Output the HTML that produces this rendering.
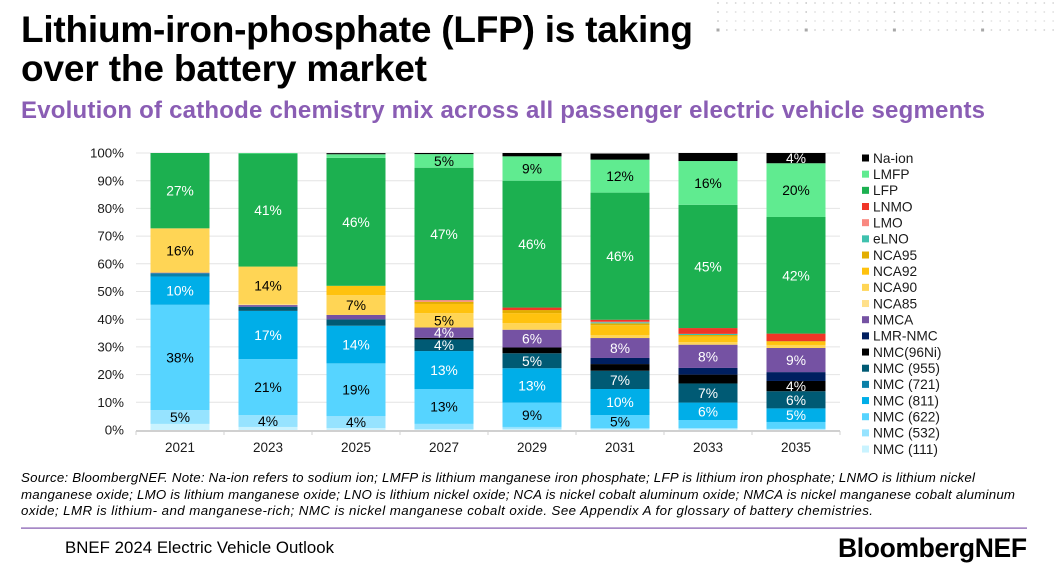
<!DOCTYPE html>
<html lang="en">
<head>
<meta charset="utf-8">
<title>Lithium-iron-phosphate (LFP) is taking over the battery market</title>
<style>
  html, body { margin: 0; padding: 0; background: #fff; }
  body { width: 1062px; height: 577px; overflow: hidden; }
  svg { display: block; font-family: "Liberation Sans", Arial, sans-serif; }
</style>
</head>
<body>
<svg id="root" xmlns="http://www.w3.org/2000/svg" width="1062" height="577" viewBox="0 0 1062 577">
  <g id="dots"></g>

  <text x="21" y="42" font-size="37" font-weight="700" fill="#000" textLength="672" lengthAdjust="spacing">Lithium-iron-phosphate (LFP) is taking</text>
  <text x="21" y="81" font-size="37" font-weight="700" fill="#000" textLength="406" lengthAdjust="spacing">over the battery market</text>
  <text x="21" y="118" font-size="24" font-weight="700" fill="#8A5DB4" textLength="964" lengthAdjust="spacing">Evolution of cathode chemistry mix across all passenger electric vehicle segments</text>

  <g id="grid"></g>
  <g id="yaxis"></g>
  <g id="bars"></g>
  <g id="xaxis"></g>
  <g id="labels"></g>
  <g id="legend"></g>

  <g font-size="13.3" font-style="italic" fill="#000">
    <text x="21" y="482" textLength="954" lengthAdjust="spacing">Source: BloombergNEF. Note: Na-ion refers to sodium ion; LMFP is lithium manganese iron phosphate; LFP is lithium iron phosphate; LNMO is lithium nickel</text>
    <text x="21" y="499" textLength="994" lengthAdjust="spacing">manganese oxide; LMO is lithium manganese oxide; LNO is lithium nickel oxide; NCA is nickel cobalt aluminum oxide; NMCA is nickel manganese cobalt aluminum</text>
    <text x="21" y="515" textLength="852" lengthAdjust="spacing">oxide; LMR is lithium- and manganese-rich; NMC is nickel manganese cobalt oxide. See Appendix A for glossary of battery chemistries.</text>
  </g>

  <rect x="21" y="527.5" width="1006" height="1.2" fill="#7F56AE"></rect>
  <text x="65" y="553" font-size="16.8" fill="#000" textLength="269" lengthAdjust="spacing">BNEF 2024 Electric Vehicle Outlook</text>
  <text x="838" y="557" font-size="26.5" font-weight="700" fill="#000" textLength="189" lengthAdjust="spacing">BloombergNEF</text>
</svg>

<script>
const years = ['2021', '2023', '2025', '2027', '2029', '2031', '2033', '2035'];
const yTicks = [0, 10, 20, 30, 40, 50, 60, 70, 80, 90, 100];

const nmc111 = [2.2, 1.1, 0.7, 0.3, 0.4, 0.3, 0.4, 0.2];
const nmc532 = [5.0, 4.3, 4.35, 1.9, 0.7, 0.4, 0.3, 0.2];
const nmc622 = [38.0, 20.2, 19.0, 12.6, 8.8, 4.7, 2.9, 2.5];
const nmc811 = [10.2, 17.4, 13.6, 13.7, 12.4, 9.4, 6.3, 4.9];
const nmc721 = [1.2, 0, 0, 0, 0, 0, 0, 0];
const nmc955 = [0, 1.5, 2.3, 4.2, 5.4, 6.6, 6.9, 6.2];
const nmc96Ni = [0, 0, 0, 0.6, 2.1, 2.4, 3.2, 3.7];
const lmrNmc = [0, 0, 0, 0, 0, 2.2, 2.4, 3.2];
const nmca = [0.2, 0.6, 1.6, 3.7, 6.4, 7.2, 8.4, 8.7];
const nca85 = [0, 0.4, 0, 0, 0, 0, 0, 0];
const nca90 = [16.0, 13.5, 7.1, 5.2, 2.4, 1.1, 0.9, 1.1];
const nca92 = [0, 0, 3.4, 3.3, 3.6, 3.5, 2.0, 1.1];
const nca95 = [0, 0, 0, 0.8, 1.1, 0.7, 0.6, 0.3];
const elno = [0, 0, 0, 0, 0, 0.4, 0.4, 0];
const lmo = [0, 0, 0, 0.6, 0, 0.2, 0, 0];
const lnmo = [0, 0, 0, 0, 0.9, 0.7, 2.1, 2.7];
const lfp = [27.2, 40.8, 46.2, 47.8, 45.8, 45.9, 44.5, 42.1];
const lmfp = [0, 0.2, 1.3, 4.9, 8.8, 11.9, 15.8, 19.4];
const naIon = [0, 0, 0.4, 0.4, 1.2, 2.2, 2.9, 3.7];

const nmc532Labels = ['5%', '4%', '4%', '', '', '', '', ''];
const nmc622Labels = ['38%', '21%', '19%', '13%', '9%', '5%', '', ''];
const nmc811Labels = ['10%', '17%', '14%', '13%', '13%', '10%', '6%', '5%'];
const nmc955Labels = ['', '', '', '4%', '5%', '7%', '7%', '6%'];
const nmc96NiLabels = ['', '', '', '', '', '', '', '4%'];
const nmcaLabels = ['', '', '', '4%', '6%', '8%', '8%', '9%'];
const nca90Labels = ['16%', '14%', '7%', '5%', '', '', '', ''];
const lfpLabels = ['27%', '41%', '46%', '47%', '46%', '46%', '45%', '42%'];
const lmfpLabels = ['', '', '', '5%', '9%', '12%', '16%', '20%'];
const naIonLabels = ['', '', '', '', '', '', '', '4%'];
const noLabels = ['', '', '', '', '', '', '', ''];

const seriesNames = ['NMC (111)', 'NMC (532)', 'NMC (622)', 'NMC (811)', 'NMC (721)', 'NMC (955)', 'NMC(96Ni)', 'LMR-NMC', 'NMCA', 'NCA85', 'NCA90', 'NCA92', 'NCA95', 'eLNO', 'LMO', 'LNMO', 'LFP', 'LMFP', 'Na-ion'];
const seriesValues = [nmc111, nmc532, nmc622, nmc811, nmc721, nmc955, nmc96Ni, lmrNmc, nmca, nca85, nca90, nca92, nca95, elno, lmo, lnmo, lfp, lmfp, naIon];
const seriesLabels = [noLabels, nmc532Labels, nmc622Labels, nmc811Labels, noLabels, nmc955Labels, nmc96NiLabels, noLabels, nmcaLabels, noLabels, nca90Labels, noLabels, noLabels, noLabels, noLabels, noLabels, lfpLabels, lmfpLabels, naIonLabels];
const seriesColors = ['#C9F3FF', '#96E3FF', '#56D4FF', '#00AEE8', '#0B80A8', '#005A74', '#000000', '#001F60', '#7552A3', '#FFE08A', '#FFD555', '#FFC20E', '#E3AE00', '#3FC1AE', '#F98880', '#F03527', '#1CB050', '#60EB90', '#000000'];
const labelColors = ['#000', '#000', '#000', '#fff', '#fff', '#fff', '#fff', '#fff', '#fff', '#000', '#000', '#000', '#000', '#000', '#000', '#000', '#fff', '#000', '#fff'];

const NS = 'http://www.w3.org/2000/svg';
const plotLeft = 136, plotRight = 840, plotTop = 153, plotBottom = 430;
const bandWidth = (plotRight - plotLeft) / years.length;
const barWidth = 59;

function yScale(v) {
  return plotBottom - (v / 100) * (plotBottom - plotTop);
}
function xBand(i) {
  return plotLeft + bandWidth * i;
}
function make(tag, attrs) {
  const el = document.createElementNS(NS, tag);
  for (const k in attrs) el.setAttribute(k, attrs[k]);
  return el;
}
function slug(s) {
  return s.toLowerCase().replace(/[^a-z0-9]+/g, '-').replace(/^-|-$/g, '');
}

const gridG = document.getElementById('grid');
const yG = document.getElementById('yaxis');
yTicks.forEach(function (t) {
  if (t > 0) {
    const line = make('line', { x1: plotLeft, x2: plotRight, y1: yScale(t), y2: yScale(t), stroke: '#e4e4e4', 'stroke-width': 1 });
    
    
    gridG.appendChild(line);
  }
  const lab = make('text', { x: 124, y: yScale(t) + 4.6, 'text-anchor': 'end', 'font-size': 13.3, fill: '#1a1a1a' });
  lab.textContent = t + '%';
  
  
  yG.appendChild(lab);
});

const barsG = document.getElementById('bars');
const labelsG = document.getElementById('labels');
years.forEach(function (year, i) {
  const x = xBand(i) + (bandWidth - barWidth) / 2;
  let cum = 0;
  seriesValues.forEach(function (vals, s) {
    const v = vals[i];
    const yTop = yScale(cum + v);
    const yBot = yScale(cum);
    if (v > 0) {
      const r = make('rect', { x: x, y: yTop, width: barWidth, height: yBot - yTop, fill: seriesColors[s] });
      
      
      barsG.appendChild(r);
    }
    const txt = seriesLabels[s][i];
    if (txt) {
      const t = make('text', { x: x + barWidth / 2, y: (yTop + yBot) / 2 + 5, 'text-anchor': 'middle', 'font-size': 13.8, fill: labelColors[s] });
      t.textContent = txt;
      
      
      labelsG.appendChild(t);
    }
    cum += v;
  });
});

const xG = document.getElementById('xaxis');
const axisLine = make('line', { x1: plotLeft, x2: plotRight, y1: 431, y2: 431, stroke: '#d0d0d0', 'stroke-width': 2 });


xG.appendChild(axisLine);
for (let i = 0; i <= years.length; i++) {
  const tick = make('line', { x1: xBand(i), x2: xBand(i), y1: 431, y2: 435, stroke: '#d0d0d0', 'stroke-width': 1 });
  
  
  xG.appendChild(tick);
}
years.forEach(function (year, i) {
  const t = make('text', { x: xBand(i) + bandWidth / 2, y: 452, 'text-anchor': 'middle', 'font-size': 13.5, fill: '#1a1a1a' });
  t.textContent = year;
  
  
  xG.appendChild(t);
});

const legendG = document.getElementById('legend');
const legendTop = 158, legendStep = 16.17;
seriesNames.slice().reverse().forEach(function (name, i) {
  const idx = seriesNames.length - 1 - i;
  const cy = legendTop + legendStep * i;
  const g = make('g', {});
  
  
  const sw = make('rect', { x: 862, y: cy - 3.5, width: 7, height: 7, fill: seriesColors[idx] });
  
  
  g.appendChild(sw);
  const t = make('text', { x: 873, y: cy + 4.8, 'font-size': 13.7, fill: '#1a1a1a' });
  t.textContent = name;
  
  
  g.appendChild(t);
  legendG.appendChild(g);
});

const dotsG = document.getElementById('dots');
const dotRows = [3, 12, 21, 30];
const dotShades = ['#d4d4d4', '#dedede', '#e2e2e2', '#d0d0d0'];
for (let c = 0; c < 39; c++) {
  dotRows.forEach(function (rowY, r) {
    const major = (c % 10 === 0);
    const size = (major && r === 3) ? 3 : 1.5;
    const d = make('rect', {
      x: 718 + c * 8.82 - size / 2,
      y: rowY - size / 2,
      width: size,
      height: size,
      fill: major ? (r === 3 ? '#a8a8a8' : '#c4c4c4') : dotShades[r]
    });
    
    
    dotsG.appendChild(d);
  });
}
</script>
</body>
</html>
